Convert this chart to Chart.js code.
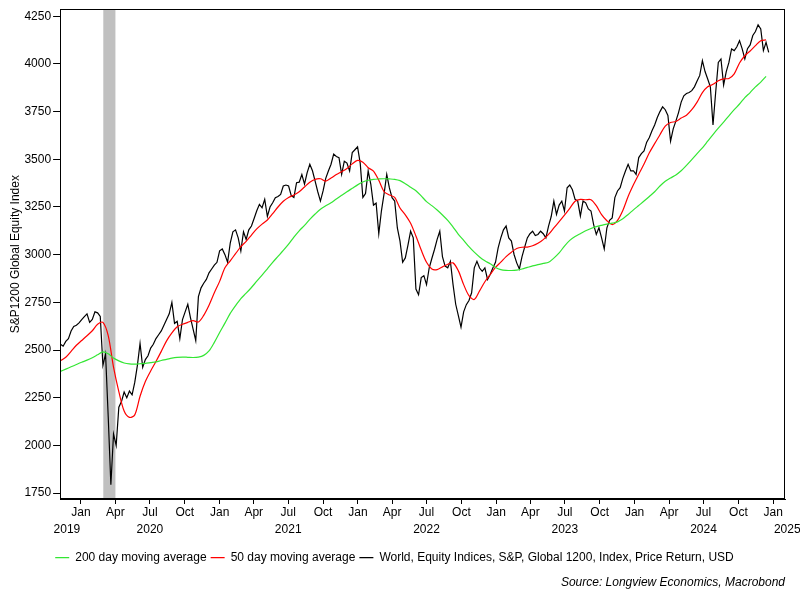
<!DOCTYPE html>
<html>
<head>
<meta charset="utf-8">
<script src="https://cdn.jsdelivr.net/npm/chart.js@4.4.1/dist/chart.umd.min.js"></script>
<style>
  html, body { margin: 0; padding: 0; background: #fff; }
  #wrap { width: 800px; height: 600px; }
</style>
</head>
<body>
<div id="wrap"><canvas id="chart"></canvas></div>
<script>
const DAY = 86400000;

// S&P Global 1200, weekly readings from 8 Nov 2019
const indexStart = '2019-11-08';
const indexValues = [
  2530, 2520, 2545, 2560, 2600, 2624, 2630, 2642, 2660, 2675,
  2690, 2645, 2660, 2700, 2695, 2676, 2420, 2480, 2150, 1794,
  2060, 2000, 2200, 2230, 2280, 2250, 2285, 2265, 2330, 2420,
  2535, 2410, 2450, 2470, 2510, 2530, 2560, 2580, 2600, 2630,
  2660, 2690, 2750, 2640, 2650, 2560, 2660, 2700, 2740, 2670,
  2610, 2550, 2780, 2826, 2850, 2870, 2905, 2925, 2945, 2960,
  3020, 3030, 3000, 2960, 3060, 3120, 3130, 3088, 3020, 3120,
  3080, 3130, 3150, 3190, 3230, 3264, 3246, 3290, 3200, 3250,
  3272, 3299, 3305, 3316, 3360, 3365, 3360, 3310, 3300, 3377,
  3380, 3420, 3370, 3430, 3474, 3440, 3386, 3330, 3281, 3334,
  3400, 3439, 3474, 3527, 3515, 3509, 3421, 3490, 3480, 3439,
  3535, 3550, 3565, 3480, 3300, 3320, 3439, 3369, 3260, 3270,
  3110, 3230, 3320, 3421, 3350, 3299, 3281, 3140, 3071, 2960,
  2983, 3050, 3123, 3088, 2820, 2790, 2880, 2890, 2843, 2930,
  2980, 3027, 3080, 3123, 2990, 2940, 2931, 2965, 2843, 2740,
  2680, 2620, 2700, 2738, 2760, 2800, 2931, 2965, 2930, 2913,
  2931, 2870, 2896, 2930, 2960, 3036, 3088, 3130, 3150, 3088,
  3071, 3001, 2957, 2925, 2990, 3040, 3088, 3110, 3123, 3100,
  3106, 3123, 3110, 3088, 3150, 3200, 3281, 3211, 3260, 3281,
  3229, 3351, 3365, 3340, 3290, 3281, 3202, 3281, 3272, 3240,
  3229, 3158, 3106, 3141, 3088, 3030, 3141, 3180, 3193, 3299,
  3334, 3351, 3400, 3439, 3474, 3439, 3440, 3421, 3509, 3530,
  3544, 3590, 3614, 3650, 3680, 3719, 3750, 3775, 3760, 3730,
  3595, 3660, 3700, 3745, 3800, 3833, 3845, 3850, 3860, 3880,
  3910, 3940, 4017, 3960, 3921, 3880, 3680, 3850, 4008, 4026,
  3890, 3960, 4008, 4079, 4070, 4090, 4122, 4079, 4026, 4080,
  4100, 4149, 4170, 4205, 4184, 4070, 4113, 4061
];

// moving averages, read every two weeks from the same start
const maStart = '2019-11-08';
const ma50 = [
  2444, 2462, 2493, 2525, 2550, 2575, 2601, 2635, 2645, 2575,
  2410, 2282, 2180, 2147, 2160, 2258, 2335, 2390, 2440, 2493,
  2548, 2590, 2622, 2635, 2645, 2654, 2647, 2682, 2735, 2800,
  2860, 2931, 2968, 3005, 3042, 3070, 3103, 3135, 3160, 3182,
  3215, 3250, 3280, 3300, 3313, 3330, 3355, 3380, 3395, 3398,
  3386, 3402, 3420, 3435, 3452, 3476, 3494, 3485, 3456, 3438,
  3390, 3330, 3313, 3300, 3245, 3209, 3165, 3098, 3024, 2960,
  2925, 2922, 2936, 2950, 2957, 2915, 2843, 2785, 2765, 2810,
  2858, 2896, 2933, 2961, 2990, 3013, 3032, 3039, 3040, 3047,
  3060, 3079, 3106, 3140, 3173, 3207, 3243, 3280, 3290, 3288,
  3288, 3257, 3210, 3178, 3158, 3180, 3232, 3305, 3366, 3422,
  3475, 3534, 3582, 3629, 3674, 3693, 3698, 3716, 3731, 3760,
  3800, 3850, 3880, 3893, 3912, 3922, 3924, 3948, 4005, 4043,
  4068, 4096, 4122, 4126
];
const ma200 = [
  2388, 2400, 2412, 2424, 2436, 2447, 2460, 2475, 2490, 2480,
  2458, 2443, 2432, 2427, 2426, 2428, 2430, 2434, 2438, 2445,
  2451, 2458, 2462, 2463, 2462, 2461, 2463, 2472, 2495, 2540,
  2592, 2641, 2692, 2733, 2770, 2798, 2828, 2861, 2893, 2926,
  2960, 2991, 3022, 3055, 3092, 3125, 3154, 3185, 3213, 3238,
  3256, 3272, 3292, 3311, 3330, 3348, 3366, 3381, 3390, 3395,
  3397, 3398, 3397, 3395, 3388, 3372, 3353, 3335, 3308, 3278,
  3257, 3234, 3208, 3180, 3145, 3107, 3075, 3042, 3013, 2988,
  2968, 2952, 2933, 2922, 2918, 2917, 2919, 2925, 2933, 2941,
  2948, 2954, 2960, 2982, 3009, 3045, 3075, 3095, 3110, 3125,
  3137, 3147, 3154, 3160, 3165, 3172, 3188, 3211, 3235, 3258,
  3281, 3305, 3330, 3360, 3385, 3402, 3418, 3440, 3468, 3498,
  3530, 3560, 3595, 3630, 3663, 3695, 3728, 3760, 3790, 3823,
  3850, 3880, 3905, 3935
];

const recession = ['2020-02-29', '2020-04-01'];
const xRange = ['2019-11-07', '2025-02-01'];
const quarterMonths = ['Jan', 'Apr', 'Jul', 'Oct'];
const tickYears = [2020, 2021, 2022, 2023, 2024, 2025];
const edgeYears = ['2019', '2025'];
const yTicks = [1750, 2000, 2250, 2500, 2750, 3000, 3250, 3500, 3750, 4000, 4250];
const seriesNames = [
  '200 day moving average',
  '50 day moving average',
  'World, Equity Indices, S&P, Global 1200, Index, Price Return, USD'
];

const FONT = '"Liberation Sans", Arial, sans-serif';
Chart.defaults.font.family = FONT;
Chart.defaults.font.size = 12;
Chart.defaults.color = '#000';

const toPoints = (start, stepDays, values) =>
  values.map((v, i) => ({ x: Date.parse(start) + i * stepDays * DAY, y: v }));

const xTicks = [];
tickYears.forEach(y => {
  [0, 3, 6, 9].forEach(m => {
    const t = Date.UTC(y, m, 1);
    if (t <= Date.parse(xRange[1])) xTicks.push(t);
  });
});

const decor = {
  id: 'decor',
  beforeDatasetsDraw(chart) {
    const { ctx, chartArea: a, scales: { x } } = chart;
    const x0 = x.getPixelForValue(Date.parse(recession[0]));
    const x1 = x.getPixelForValue(Date.parse(recession[1]));
    ctx.save();
    ctx.fillStyle = '#c0c0c0';
    ctx.fillRect(x0, a.top, x1 - x0, a.bottom - a.top);
    ctx.restore();
  },
  afterDraw(chart) {
    const { ctx, chartArea: a, scales: { x } } = chart;
    ctx.save();
    ctx.strokeStyle = '#000';
    ctx.lineWidth = 1;
    ctx.strokeRect(Math.round(a.left) + 0.5, Math.round(a.top) + 0.5,
      Math.round(a.right - a.left) - 1, Math.round(a.bottom - a.top) - 1);
    // year labels for the part-years at each end
    ctx.font = '12px ' + FONT;
    ctx.fillStyle = '#000';
    ctx.textAlign = 'center';
    ctx.textBaseline = 'middle';
    const yy = a.bottom + 5 + 16.8 * 1.5;
    const first = x.getPixelForValue(Date.UTC(tickYears[0], 0, 1));
    const last = x.getPixelForValue(Date.UTC(tickYears[tickYears.length - 1], 0, 1));
    ctx.fillText(edgeYears[0], first - 14, yy);
    ctx.fillText(edgeYears[1], last + 14, yy);
    ctx.restore();
  }
};

new Chart(document.getElementById('chart'), {
  type: 'line',
  data: {
    datasets: [
      {
        label: seriesNames[0],
        data: toPoints(maStart, 14, ma200),
        borderColor: '#33e633',
        borderWidth: 1.2,
        pointRadius: 0,
        tension: 0.3,
        pointStyle: 'line'
      },
      {
        label: seriesNames[1],
        data: toPoints(maStart, 14, ma50),
        borderColor: '#ff0000',
        borderWidth: 1.2,
        pointRadius: 0,
        tension: 0.3,
        pointStyle: 'line'
      },
      {
        label: seriesNames[2],
        data: toPoints(indexStart, 7, indexValues),
        borderColor: '#000000',
        borderWidth: 1.2,
        pointRadius: 0,
        tension: 0,
        pointStyle: 'line'
      }
    ]
  },
  options: {
    responsive: true,
    maintainAspectRatio: false,
    animation: false,
    layout: { padding: { left: 4, right: 15, top: 6, bottom: 4 } },
    scales: {
      x: {
        type: 'linear',
        min: Date.parse(xRange[0]),
        max: Date.parse(xRange[1]),
        afterBuildTicks: s => { s.ticks = xTicks.map(v => ({ value: v })); },
        afterFit: s => { s.height += 10; },
        grid: { drawOnChartArea: false, tickLength: 5, color: '#000' },
        border: { color: '#000' },
        ticks: {
          autoSkip: false,
          maxRotation: 0,
          padding: 0,
          font: { size: 12, lineHeight: 1.4 },
          callback: v => {
            const d = new Date(v);
            const m = d.getUTCMonth();
            const name = quarterMonths[m / 3];
            return m === 6 ? [name, String(d.getUTCFullYear())] : name;
          }
        }
      },
      y: {
        min: 1719,
        max: 4287,
        afterBuildTicks: s => { s.ticks = yTicks.map(v => ({ value: v })); },
        grid: { drawOnChartArea: false, tickLength: 7, color: '#000' },
        border: { color: '#000' },
        ticks: { padding: 2, callback: v => String(v) },
        title: {
          display: true,
          text: 'S&P1200 Global Equity Index',
          font: { size: 12 },
          padding: { top: 4, bottom: 0 }
        }
      }
    },
    plugins: {
      legend: {
        position: 'bottom',
        labels: {
          usePointStyle: true,
          pointStyle: 'line',
          pointStyleWidth: 14,
          padding: 4,
          font: { size: 12 }
        }
      },
      subtitle: {
        display: true,
        position: 'bottom',
        align: 'end',
        text: 'Source: Longview Economics, Macrobond',
        font: { size: 12, style: 'italic' },
        padding: { top: 2, bottom: 6 }
      },
      tooltip: { enabled: false }
    }
  },
  plugins: [decor]
});
</script>
</body>
</html>
